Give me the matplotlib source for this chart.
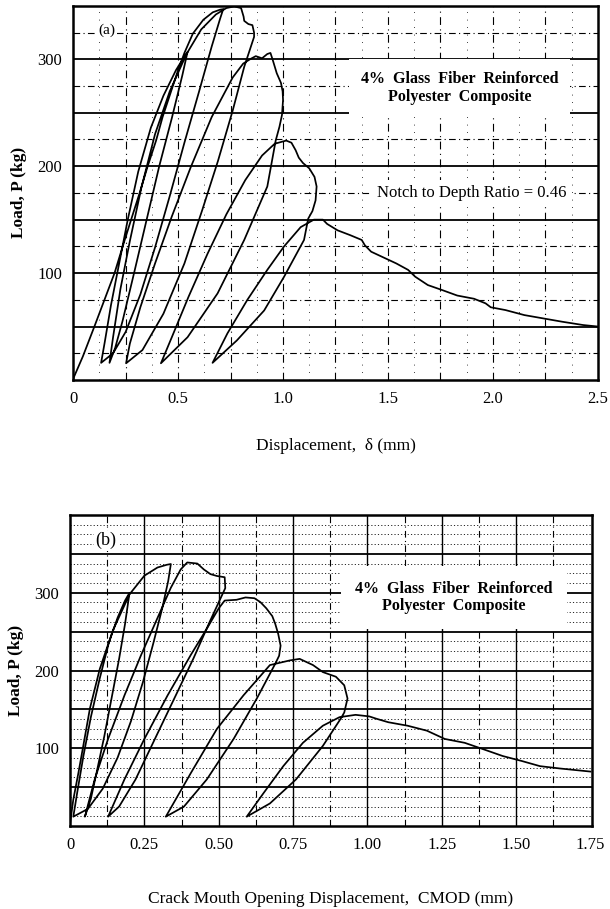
import matplotlib
matplotlib.use("Agg")
import matplotlib.pyplot as plt
import numpy as np

plt.rcParams['font.family'] = ['Liberation Serif', 'DejaVu Serif']

# ---------------- data panel (a): load vs displacement ----------------
a_disp = [0.0, 0.003, 0.046, 0.101, 0.149, 0.197, 0.236, 0.276, 0.315, 0.355, 0.395, 0.426, 0.458, 0.50, 0.53, 0.57, 0.62, 0.665, 0.70, 0.715,
          0.70, 0.66, 0.60, 0.53, 0.46, 0.39, 0.32, 0.25, 0.19, 0.133,
          0.15, 0.18, 0.215, 0.26, 0.31, 0.37, 0.43, 0.49, 0.525, 0.545,
          0.52, 0.47, 0.41, 0.35, 0.29, 0.235, 0.20, 0.173,
          0.19, 0.225, 0.27, 0.325, 0.39, 0.46, 0.54, 0.61, 0.68, 0.73, 0.767, 0.80, 0.812, 0.815, 0.835, 0.854, 0.862, 0.862,
          0.815, 0.76, 0.69, 0.615, 0.53, 0.43, 0.33, 0.252,
          0.27, 0.32, 0.39, 0.47, 0.56, 0.66, 0.76, 0.81, 0.846, 0.87, 0.90, 0.925, 0.94, 0.95, 0.97, 0.99, 0.998, 1.0, 0.995, 0.983, 0.965,
          0.925, 0.815, 0.688, 0.545, 0.418,
          0.47, 0.55, 0.64, 0.73, 0.82, 0.90, 0.96, 1.015, 1.04, 1.06, 1.075, 1.095, 1.125, 1.15, 1.16, 1.155, 1.14, 1.12,
          1.10, 1.005, 0.91, 0.78, 0.664,
          0.735, 0.83, 0.925, 1.005, 1.084, 1.147, 1.19, 1.21,
          1.26, 1.32, 1.375, 1.39, 1.42, 1.485, 1.54, 1.596, 1.63, 1.69, 1.76, 1.83, 1.91, 1.965, 1.99, 2.06, 2.15, 2.24, 2.33, 2.43, 2.5]
a_load = [0, 2.5, 22, 50, 75, 100, 125, 150, 174, 200, 224, 246, 265, 290, 306, 324, 337, 344, 346.5, 347,
          338, 312, 270, 222, 172, 124, 80, 45, 25, 16,
          35, 70, 105, 150, 195, 236, 266, 290, 301, 307,
          285, 245, 200, 150, 100, 55, 30, 16,
          40, 85, 130, 180, 230, 270, 305, 328, 342, 348, 349.5, 348, 340, 336, 333, 332, 325, 321,
          293, 252, 205, 159, 109, 62, 28, 15.6,
          34, 68, 109, 153, 199, 246, 283, 296, 300.5, 303, 301, 305, 306, 300, 287, 278, 270, 262, 248, 237, 224,
          181, 131, 81, 40, 15.6,
          40, 78, 118, 155, 187, 210, 221, 224, 222, 215, 208, 203, 198, 190, 181, 168, 158, 151,
          131, 96.6, 65, 37, 16,
          43.6, 75, 103, 125, 143, 150, 150, 146,
          140, 135.5, 131, 126, 120, 114, 109, 103, 96.6, 88.8, 84, 79, 76, 71.7, 68, 65.4, 60.7, 57.6, 54.5, 51.4, 50]

# ---------------- data panel (b): load vs CMOD ----------------
b_cmod = [0.0, 0.011, 0.028, 0.044, 0.067, 0.10, 0.144, 0.20, 0.25, 0.294, 0.325, 0.339,
          0.33, 0.31, 0.28, 0.245, 0.205, 0.16, 0.11, 0.06, 0.011,
          0.025, 0.045, 0.07, 0.10, 0.13, 0.16, 0.185, 0.20,
          0.185, 0.165, 0.14, 0.115, 0.09, 0.07, 0.05,
          0.083, 0.128, 0.183, 0.239, 0.294, 0.339, 0.372, 0.394, 0.428, 0.45, 0.472, 0.494, 0.52, 0.522,
          0.47, 0.415, 0.35, 0.285, 0.22, 0.165, 0.128,
          0.183, 0.25, 0.328, 0.406, 0.461, 0.50, 0.52, 0.56, 0.59, 0.62, 0.64, 0.66, 0.68, 0.69, 0.70, 0.708, 0.703, 0.689,
          0.628, 0.55, 0.46, 0.383, 0.322,
          0.406, 0.494, 0.583, 0.672, 0.739, 0.772, 0.817, 0.85, 0.894, 0.922, 0.933, 0.922, 0.91,
          0.85, 0.76, 0.672, 0.594,
          0.65, 0.717, 0.783, 0.85, 0.906, 0.96, 1.006, 1.03, 1.07, 1.135, 1.2, 1.26, 1.327, 1.39, 1.455, 1.52, 1.58, 1.647, 1.75]
b_load = [3, 34, 68, 102, 151.5, 202, 251.5, 298, 322, 332.5, 336, 337,
          315, 280, 235, 185, 135, 88, 48, 22, 12,
          45, 90, 140, 190, 235, 268, 290, 300,
          260, 215, 165, 115, 70, 35, 12,
          60, 112, 168, 220, 267.5, 306.5, 330, 339, 337.6, 330, 324, 321.6, 320, 306,
          263, 215.6, 163.6, 111.7, 59.7, 25, 12,
          60, 112, 168, 220, 254.5, 280, 290, 291, 294, 293, 288, 280, 270, 260, 247, 232, 219, 208,
          164, 112, 60, 25, 12,
          68, 125, 168, 207, 213, 215, 207, 198, 192, 181, 164, 146, 138,
          103, 60, 29, 12,
          42, 77, 107, 129, 140, 143, 141, 138, 133.5, 129, 122.6, 112, 107, 98.7, 90, 83.5, 77, 74, 70]

a_xticks = [0, 0.5, 1.0, 1.5, 2.0, 2.5]
a_xticklabels = ['0', '0.5', '1.0', '1.5', '2.0', '2.5']
b_xticks = [0, 0.25, 0.5, 0.75, 1.0, 1.25, 1.5, 1.75]
b_xticklabels = ['0', '0.25', '0.50', '0.75', '1.00', '1.25', '1.50', '1.75']
y_ticks = [100, 200, 300]

fig = plt.figure(figsize=(6.1, 9.09), dpi=100)
ax1 = fig.add_axes([0.120, 0.582, 0.860, 0.4115])
ax2 = fig.add_axes([0.1148, 0.0913, 0.8557, 0.3421])

TICKFS = 12

def style(ax, xmax, ymax, xt, xtl):
    ax.set_xlim(0, xmax)
    ax.set_ylim(0, ymax)
    ax.set_xticks(xt)
    ax.set_xticklabels(xtl, fontsize=TICKFS)
    ax.set_yticks(y_ticks)
    ax.set_yticklabels([str(v) for v in y_ticks], fontsize=TICKFS)
    ax.tick_params(length=0, pad=8)
    for s in ax.spines.values():
        s.set_linewidth(1.8)
        s.set_color('black')

# ---- panel (a) grid ----
for y in np.arange(50, 301, 50):
    ax1.axhline(y, color='black', lw=1.3, zorder=1)
for y in np.arange(25, 350, 50):
    ax1.axhline(y, color='black', lw=0.8, ls=(0, (6, 3, 1, 3)), zorder=1)
for x in np.arange(0.25, 2.5, 0.25):
    ax1.axvline(x, color='black', lw=0.8, ls=(0, (7, 4, 1, 4)), zorder=1)
for x in np.arange(0.125, 2.5, 0.25):
    ax1.axvline(x, color='black', lw=0.6, ls=(0, (1, 8)), zorder=1)

ax1.plot(a_disp, a_load, color='black', lw=1.25, zorder=3)
style(ax1, 2.5, 350, a_xticks, a_xticklabels)
ax1.text(0.12, 327, '(a)', fontsize=11, ha='left', va='center', zorder=4,
         bbox=dict(facecolor='white', edgecolor='none', pad=1))
ax1.text(1.84, 273, '4%  Glass  Fiber  Reinforced\nPolyester  Composite', fontsize=11.5,
         fontweight='bold', ha='center', va='center', linespacing=1.15, zorder=4,
         bbox=dict(boxstyle='square,pad=0.75', facecolor='white', edgecolor='none'))
ax1.text(1.90, 175, 'Notch to Depth Ratio = 0.46', fontsize=12, ha='center', va='center', zorder=4,
         bbox=dict(boxstyle='square,pad=0.3', facecolor='white', edgecolor='none'))
ax1.set_xlabel('Displacement,  δ (mm)', fontsize=12.5, labelpad=22)
ax1.set_ylabel('Load, P (kg)', fontsize=12.5, fontweight='bold', labelpad=7)

# ---- panel (b) grid ----
for y in np.arange(12.5, 400, 12.5):
    if y % 50 != 0:
        ax2.axhline(y, color='0.15', lw=0.7, ls=(0, (1.2, 2.2)), zorder=1)
for y in np.arange(50, 351, 50):
    ax2.axhline(y, color='black', lw=1.3, zorder=1)
for x in np.arange(0.25, 1.75, 0.25):
    ax2.axvline(x, color='black', lw=1.0, zorder=1)
for x in np.arange(0.125, 1.75, 0.25):
    ax2.axvline(x, color='black', lw=0.8, ls=(0, (6, 3, 1, 3)), zorder=1)

ax2.plot(b_cmod, b_load, color='black', lw=1.25, zorder=3)
style(ax2, 1.755, 400, b_xticks, b_xticklabels)
ax2.text(0.085, 367, '(b)', fontsize=13, ha='left', va='center', zorder=4,
         bbox=dict(facecolor='white', edgecolor='none', pad=1))
ax2.text(1.29, 294, '4%  Glass  Fiber  Reinforced\nPolyester  Composite', fontsize=11.5,
         fontweight='bold', ha='center', va='center', linespacing=1.15, zorder=4,
         bbox=dict(boxstyle='square,pad=0.9', facecolor='white', edgecolor='none'))
ax2.set_xlabel('Crack Mouth Opening Displacement,  CMOD (mm)', fontsize=12.5, labelpad=27)
ax2.set_ylabel('Load, P (kg)', fontsize=12.5, fontweight='bold', labelpad=7)

fig.savefig('out.png', dpi=100)
